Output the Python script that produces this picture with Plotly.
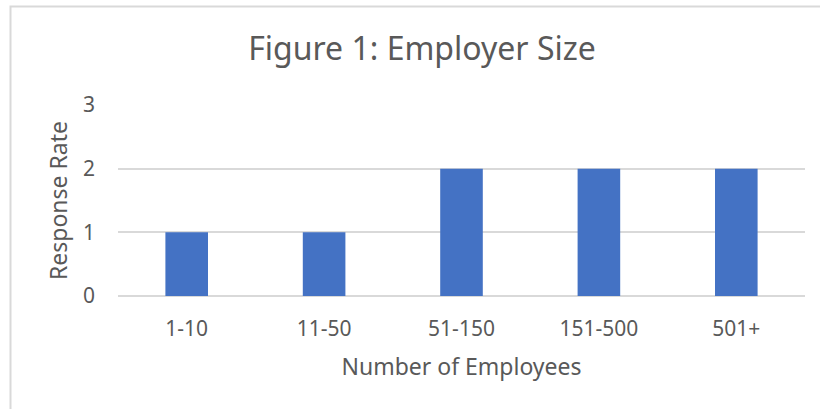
import plotly.graph_objects as go

categories = ["1-10", "11-50", "51-150", "151-500", "501+"]
values = [1, 1, 2, 2, 2]
y_ticks = [0, 1, 2, 3]

FONT = "Noto Sans"
GREY = "#595959"

fig = go.Figure(go.Bar(x=categories, y=values, marker=dict(color="#4472C4", line=dict(width=0))))

L, R, T, B = 118, 15, 105, 113
W, H = 820, 409
pw, ph = W - L - R, H - T - B

fig.update_layout(
    width=W, height=H,
    margin=dict(l=L, r=R, t=T, b=B),
    plot_bgcolor="white", paper_bgcolor="white",
    bargap=0.69,
    showlegend=False,
    font=dict(family=FONT, color=GREY, size=21),
    title=dict(text="Figure 1: Employer Size", x=422 / W, xanchor="center",
               y=1 - 49 / H, yanchor="middle", font=dict(size=32, color=GREY, family=FONT)),
    xaxis=dict(showgrid=False, showline=False, zeroline=False, ticks="",
               tickfont=dict(size=21, color=GREY), ticklabelstandoff=18,
               title=dict(text="Number of Employees", font=dict(size=23, color=GREY), standoff=17)),
    yaxis=dict(range=[0, 3], tickvals=y_ticks, showgrid=True, gridcolor="#d9d9d9", gridwidth=1.5,
               zeroline=True, zerolinecolor="#d9d9d9", zerolinewidth=1.5,
               showline=False, ticks="", ticklen=0,
               tickfont=dict(size=21, color=GREY), ticklabelstandoff=22,
               title=dict(text="Response Rate", font=dict(size=23, color=GREY), standoff=8)),
    shapes=[dict(type="rect", xref="paper", yref="paper",
                 x0=(10.5 - L) / pw, x1=(W + 20 - L) / pw,
                 y0=-(B + 20) / ph, y1=(H - B - 6.5) / ph,
                 line=dict(color="#d9d9d9", width=2), layer="below")],
)

fig.write_html("out.html")
